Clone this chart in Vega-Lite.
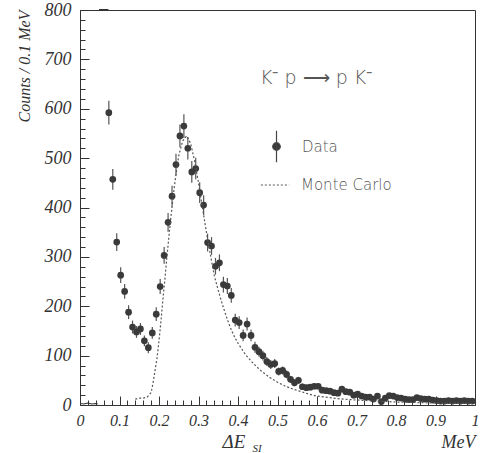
{
  "$schema": "https://vega.github.io/schema/vega-lite/v6.json",
  "width": 395,
  "height": 395,
  "autosize": "none",
  "padding": {"left": 80, "top": 10, "right": 10, "bottom": 48},
  "background": "white",
  "config": {
    "view": {"stroke": "#333", "strokeWidth": 1},
    "axis": {"grid": false, "domainColor": "#333", "tickColor": "#333", "labelFont": "Liberation Serif", "labelFontStyle": "italic", "labelColor": "#333", "titleFont": "Liberation Serif", "titleFontStyle": "italic", "titleFontWeight": "normal", "titleColor": "#333"},
    "legend": {"labelFont": "DejaVu Sans", "labelFontWeight": 200, "labelFontSize": 15, "labelColor": "#555555", "titleFont": "DejaVu Sans", "titleFontWeight": 200, "titleColor": "#555555"}
  },
  "datasets": {
    "data": [
      {"x":0.073,"y":592,"lo":568,"hi":616},{"x":0.083,"y":457,"lo":436,"hi":478},{"x":0.093,"y":330,"lo":312,"hi":348},{"x":0.103,"y":263,"lo":247,"hi":279},{"x":0.113,"y":230,"lo":215,"hi":245},{"x":0.123,"y":188,"lo":174,"hi":202},{"x":0.133,"y":158,"lo":145,"hi":171},{"x":0.143,"y":148,"lo":136,"hi":160},{"x":0.153,"y":154,"lo":142,"hi":166},{"x":0.163,"y":130,"lo":119,"hi":141},
      {"x":0.173,"y":116,"lo":105,"hi":127},{"x":0.183,"y":146,"lo":134,"hi":158},{"x":0.193,"y":184,"lo":170,"hi":198},{"x":0.203,"y":240,"lo":225,"hi":255},{"x":0.213,"y":303,"lo":286,"hi":320},{"x":0.223,"y":370,"lo":351,"hi":389},{"x":0.233,"y":423,"lo":402,"hi":444},{"x":0.243,"y":487,"lo":465,"hi":509},{"x":0.253,"y":545,"lo":522,"hi":568},{"x":0.263,"y":565,"lo":541,"hi":589},
      {"x":0.273,"y":520,"lo":497,"hi":543},{"x":0.283,"y":472,"lo":450,"hi":494},{"x":0.293,"y":479,"lo":457,"hi":501},{"x":0.303,"y":430,"lo":409,"hi":451},{"x":0.313,"y":405,"lo":385,"hi":425},{"x":0.323,"y":329,"lo":311,"hi":347},{"x":0.333,"y":322,"lo":304,"hi":340},{"x":0.343,"y":281,"lo":264,"hi":298},{"x":0.353,"y":288,"lo":271,"hi":305},{"x":0.363,"y":244,"lo":228,"hi":260},
      {"x":0.373,"y":241,"lo":225,"hi":257},{"x":0.383,"y":222,"lo":207,"hi":237},{"x":0.393,"y":172,"lo":159,"hi":185},{"x":0.403,"y":167,"lo":154,"hi":180},{"x":0.413,"y":141,"lo":129,"hi":153},{"x":0.423,"y":164,"lo":151,"hi":177},{"x":0.433,"y":141,"lo":129,"hi":153},{"x":0.443,"y":117,"lo":106,"hi":128},{"x":0.453,"y":108,"lo":98,"hi":118},{"x":0.463,"y":100,"lo":90,"hi":110},
      {"x":0.473,"y":88,"lo":79,"hi":97},{"x":0.483,"y":82,"lo":73,"hi":91},{"x":0.493,"y":84,"lo":75,"hi":93},{"x":0.503,"y":68,"lo":60,"hi":76},{"x":0.513,"y":70,"lo":62,"hi":78},{"x":0.523,"y":62,"lo":54,"hi":70},{"x":0.533,"y":52,"lo":45,"hi":59},{"x":0.543,"y":45,"lo":38,"hi":52},{"x":0.553,"y":50,"lo":43,"hi":57},{"x":0.563,"y":37,"lo":31,"hi":43},
      {"x":0.573,"y":35,"lo":29,"hi":41},{"x":0.583,"y":36,"lo":30,"hi":42},{"x":0.593,"y":38,"lo":32,"hi":44},{"x":0.603,"y":38,"lo":32,"hi":44},{"x":0.613,"y":30,"lo":25,"hi":35},{"x":0.623,"y":29,"lo":24,"hi":34},{"x":0.633,"y":28,"lo":23,"hi":33},{"x":0.643,"y":25,"lo":20,"hi":30},{"x":0.653,"y":24,"lo":19,"hi":29},{"x":0.663,"y":32,"lo":26,"hi":38},
      {"x":0.673,"y":27,"lo":22,"hi":32},{"x":0.683,"y":26,"lo":21,"hi":31},{"x":0.693,"y":20,"lo":16,"hi":24},{"x":0.703,"y":22,"lo":17,"hi":27},{"x":0.713,"y":18,"lo":14,"hi":22},{"x":0.723,"y":16,"lo":12,"hi":20},{"x":0.733,"y":16,"lo":12,"hi":20},{"x":0.743,"y":12,"lo":9,"hi":15},{"x":0.753,"y":18,"lo":14,"hi":22},{"x":0.763,"y":7,"lo":4,"hi":10},
      {"x":0.773,"y":14,"lo":10,"hi":18},{"x":0.783,"y":19,"lo":15,"hi":23},{"x":0.793,"y":18,"lo":14,"hi":22},{"x":0.803,"y":15,"lo":11,"hi":19},{"x":0.813,"y":14,"lo":10,"hi":18},{"x":0.823,"y":12,"lo":9,"hi":15},{"x":0.833,"y":11,"lo":8,"hi":14},{"x":0.843,"y":11,"lo":8,"hi":14},{"x":0.853,"y":15,"lo":11,"hi":19},{"x":0.863,"y":13,"lo":9,"hi":17},
      {"x":0.873,"y":12,"lo":9,"hi":15},{"x":0.883,"y":12,"lo":9,"hi":15},{"x":0.893,"y":10,"lo":7,"hi":13},{"x":0.903,"y":9,"lo":6,"hi":12},{"x":0.913,"y":8,"lo":5,"hi":11},{"x":0.923,"y":8,"lo":5,"hi":11},{"x":0.933,"y":9,"lo":6,"hi":12},{"x":0.943,"y":8,"lo":5,"hi":11},{"x":0.953,"y":9,"lo":6,"hi":12},{"x":0.963,"y":8,"lo":5,"hi":11},
      {"x":0.973,"y":9,"lo":6,"hi":12},{"x":0.983,"y":8,"lo":5,"hi":11},{"x":0.993,"y":8,"lo":5,"hi":11}
    ],
    "mc": [
      {"x":0.14,"y":12},{"x":0.15,"y":14},{"x":0.16,"y":14},{"x":0.17,"y":16},{"x":0.18,"y":25},{"x":0.185,"y":45},{"x":0.19,"y":70},{"x":0.195,"y":95},{"x":0.2,"y":130},{"x":0.205,"y":170},{"x":0.21,"y":215},{"x":0.215,"y":255},{"x":0.22,"y":300},{"x":0.23,"y":380},{"x":0.24,"y":450},{"x":0.25,"y":505},{"x":0.26,"y":535},{"x":0.27,"y":545},{"x":0.28,"y":530},{"x":0.29,"y":495},{"x":0.3,"y":450},{"x":0.31,"y":400},{"x":0.32,"y":350},{"x":0.33,"y":305},{"x":0.34,"y":262},{"x":0.35,"y":232},{"x":0.36,"y":205},{"x":0.37,"y":180},{"x":0.38,"y":158},{"x":0.39,"y":140},{"x":0.4,"y":125},{"x":0.42,"y":101},{"x":0.44,"y":83},{"x":0.46,"y":68},{"x":0.48,"y":56},{"x":0.5,"y":46},{"x":0.52,"y":38},{"x":0.54,"y":32},{"x":0.56,"y":27},{"x":0.58,"y":22},{"x":0.6,"y":18},{"x":0.65,"y":13},{"x":0.7,"y":10},{"x":0.75,"y":8},{"x":0.8,"y":6},{"x":0.85,"y":5},{"x":0.9,"y":4},{"x":0.95,"y":4},{"x":1.0,"y":3}
    ],
    "low": [
      {"x":0.0,"y":3},{"x":0.01,"y":2},{"x":0.02,"y":4},{"x":0.03,"y":2},{"x":0.04,"y":3},{"x":0.045,"y":2}
    ],
    "over": [{"x":0.048,"x2":0.072,"y":800}]
  },
  "resolve": {"axis": {"x": "independent", "y": "independent"}},
  "layer": [
    {
      "data": {"name": "data"},
      "mark": {"type": "rule", "color": "#555", "strokeWidth": 1.2},
      "encoding": {
        "x": {"field": "x", "type": "quantitative", "scale": {"domain": [0, 1], "nice": false, "zero": false},
          "axis": {"orient": "bottom", "values": [0,0.1,0.2,0.3,0.4,0.5,0.6,0.7,0.8,0.9,1], "format": "~g", "tickSize": -9, "labelPadding": 16, "labelFontSize": 16, "labelFlush": false,
            "title": "ΔE", "titleFontSize": 19, "titleX": 142, "titleY": 42, "titleAlign": "left", "titleBaseline": "alphabetic", "titleAngle": 0}},
        "y": {"field": "lo", "type": "quantitative", "scale": {"domain": [0, 800], "nice": false},
          "axis": {"orient": "left", "values": [0,100,200,300,400,500,600,700,800], "tickSize": -9, "labelPadding": 18, "labelFontSize": 18, "labelFlush": false,
            "title": "Counts / 0.1 MeV", "titleFontSize": 16, "titleAnchor": "end", "titlePadding": 12}},
        "y2": {"field": "hi"}
      }
    },
    {
      "data": {"name": "data"},
      "transform": [{"calculate": "'Data'", "as": "series"}],
      "mark": {"type": "point", "filled": true, "size": 45, "opacity": 1},
      "encoding": {
        "x": {"field": "x", "type": "quantitative", "scale": {"domain": [0, 1], "nice": false, "zero": false},
          "axis": {"orient": "bottom", "values": [0.02,0.04,0.06,0.08,0.12,0.14,0.16,0.18,0.22,0.24,0.26,0.28,0.32,0.34,0.36,0.38,0.42,0.44,0.46,0.48,0.52,0.54,0.56,0.58,0.62,0.64,0.66,0.68,0.72,0.74,0.76,0.78,0.82,0.84,0.86,0.88,0.92,0.94,0.96,0.98], "tickSize": -5, "labels": false, "domain": false,
            "title": "MeV", "titleFontSize": 18, "titleX": 395, "titleY": 42, "titleAlign": "right", "titleBaseline": "alphabetic", "titleAngle": 0}},
        "y": {"field": "y", "type": "quantitative", "scale": {"domain": [0, 800], "nice": false},
          "axis": {"orient": "left", "values": [20,40,60,80,120,140,160,180,220,240,260,280,320,340,360,380,420,440,460,480,520,540,560,580,620,640,660,680,720,740,760,780], "tickSize": -5, "labels": false, "domain": false, "title": null}},
        "color": {"field": "series", "type": "nominal", "scale": {"domain": ["Data"], "range": ["#3a3a3a"]},
          "legend": {"orient": "none", "legendX": 180, "legendY": 59, "title": "K⁻ p ⟶ p K⁻", "titleFontSize": 19, "titlePadding": 42, "titleColor": "#555555", "labelColor": "#555555",
            "labelOffset": 9, "symbolType": "M0,-1L0,1M-0.24,0A0.24,0.24 0 1,0 0.24,0A0.24,0.24 0 1,0 -0.24,0Z", "symbolSize": 1000, "symbolStrokeColor": "#444", "symbolStrokeWidth": 1.2, "symbolFillColor": "#3a3a3a", "symbolOpacity": 1}}
      }
    },
    {
      "data": {"name": "mc"},
      "transform": [{"calculate": "'Monte Carlo'", "as": "series"}],
      "mark": {"type": "line", "strokeWidth": 1.2, "color": "#555"},
      "encoding": {
        "x": {"field": "x", "type": "quantitative", "scale": {"domain": [0, 1], "nice": false, "zero": false},
          "axis": {"orient": "bottom", "ticks": false, "labels": false, "domain": false,
            "title": "SI", "titleFontSize": 11, "titleX": 172, "titleY": 46, "titleAlign": "left", "titleBaseline": "alphabetic", "titleAngle": 0}},
        "y": {"field": "y", "type": "quantitative", "scale": {"domain": [0, 800], "nice": false}, "axis": null},
        "strokeDash": {"field": "series", "type": "nominal", "scale": {"domain": ["Monte Carlo"], "range": [[2, 2]]},
          "legend": {"orient": "none", "legendX": 180, "legendY": 160, "title": null, "labelColor": "#555555", "labelOffset": 11, "symbolType": "stroke", "symbolSize": 800, "symbolStrokeColor": "#555", "symbolStrokeWidth": 1.2}}
      }
    },
    {
      "data": {"name": "low"},
      "mark": {"type": "line", "color": "#333", "strokeWidth": 1.2},
      "encoding": {
        "x": {"field": "x", "type": "quantitative", "axis": null},
        "y": {"field": "y", "type": "quantitative", "axis": null}
      }
    },
    {
      "data": {"name": "over"},
      "mark": {"type": "rule", "color": "#333", "strokeWidth": 2},
      "encoding": {
        "x": {"field": "x", "type": "quantitative", "axis": null},
        "x2": {"field": "x2"},
        "y": {"field": "y", "type": "quantitative", "axis": null}
      }
    }
  ]
}
